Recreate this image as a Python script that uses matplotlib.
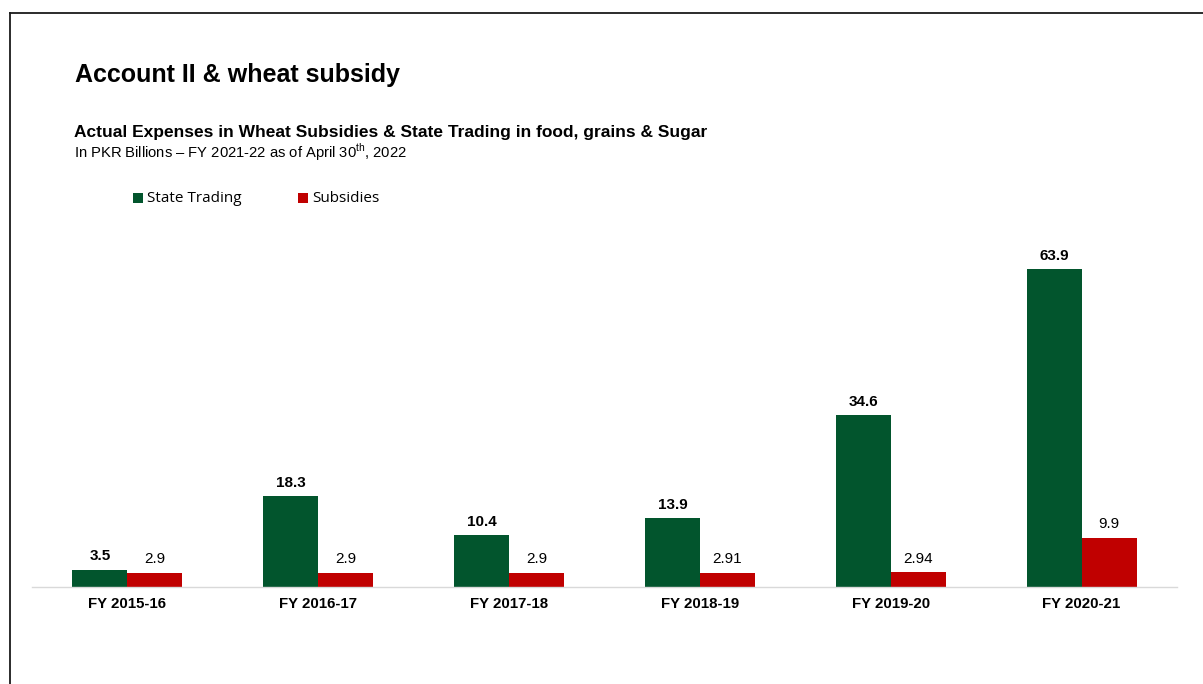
#!/usr/bin/env python3
"""Account II & wheat subsidy: state trading vs subsidies by fiscal year."""

import matplotlib

matplotlib.use("Agg")
import matplotlib.pyplot as plt
from matplotlib.lines import Line2D
from matplotlib.patches import Rectangle
import numpy as np

YEARS = ["FY 2015-16", "FY 2016-17", "FY 2017-18",
         "FY 2018-19", "FY 2019-20", "FY 2020-21"]
STATE_TRADING = [3.5, 18.3, 10.4, 13.9, 34.6, 63.9]
SUBSIDIES = [2.9, 2.9, 2.9, 2.91, 2.94, 9.9]
STATE_LABELS = ["3.5", "18.3", "10.4", "13.9", "34.6", "63.9"]
SUBSIDY_LABELS = ["2.9", "2.9", "2.9", "2.91", "2.94", "9.9"]

GREEN = "#02552D"
RED = "#C00000"

plt.rcParams["font.family"] = ["Liberation Sans", "DejaVu Sans"]
plt.rcParams["mathtext.fontset"] = "custom"
plt.rcParams["mathtext.rm"] = "Liberation Sans"

W, H = 1203, 684


def fx(px):
  return px / W


def fy(py):
  return 1 - py / H


def main():
  fig = plt.figure(figsize=(W / 100, H / 100), dpi=100)

  # frame lines along the top and left edge
  fig.add_artist(Line2D([fx(10), 1.0], [fy(13), fy(13)],
                        color="#1a1a1a", linewidth=1.3))
  fig.add_artist(Line2D([fx(10), fx(10)], [fy(13), 0.0],
                        color="#1a1a1a", linewidth=1.3))

  fig.text(fx(75), fy(75), "Account II & wheat subsidy",
           fontsize=18, fontweight="bold", ha="left", va="center")
  fig.text(fx(74), fy(132),
           "Actual Expenses in Wheat Subsidies & State Trading in food, grains & Sugar",
           fontsize=12.5, fontweight="bold", ha="left", va="center")
  fig.text(fx(74), fy(152),
           "In PKR Billions \u2013 FY 2021-22 as of April 30$^{\\mathrm{th}}$, 2022",
           fontsize=10.6, ha="left", va="center")

  # legend
  for x0, color, label in [(133, GREEN, "State Trading"),
                           (298, RED, "Subsidies")]:
    fig.add_artist(Rectangle((fx(x0), fy(203)), fx(10), 10 / H,
                             facecolor=color, edgecolor="none"))
    fig.text(fx(x0 + 14), fy(198.5), label, fontsize=11,
             family=["Open Sans", "DejaVu Sans"], ha="left", va="center")

  top_px, base_px = 240, 587
  ax = fig.add_axes([fx(32), fy(base_px), fx(1177) - fx(32),
                     (base_px - top_px) / H])
  px_per_unit = 318 / 63.9
  ax.set_ylim(0, (base_px - top_px) / px_per_unit)
  ax.set_xlim(-0.5, len(YEARS) - 0.5)

  x = np.arange(len(YEARS))
  width = 0.288
  ax.bar(x - width / 2, STATE_TRADING, width, color=GREEN,
         edgecolor="none")
  ax.bar(x + width / 2, SUBSIDIES, width, color=RED, edgecolor="none")

  for xi, v, lab in zip(x, STATE_TRADING, STATE_LABELS):
    ax.annotate(lab, (xi - width / 2, v), xytext=(0, 4.5),
                textcoords="offset points", ha="center", va="bottom",
                fontsize=11, fontweight="bold")
  for xi, v, lab in zip(x, SUBSIDIES, SUBSIDY_LABELS):
    ax.annotate(lab, (xi + width / 2, v), xytext=(0, 4.5),
                textcoords="offset points", ha="center", va="bottom",
                fontsize=11)

  ax.set_xticks(x)
  ax.set_xticklabels(YEARS, fontsize=10.8, fontweight="bold")
  ax.tick_params(axis="x", length=0, pad=7)
  ax.set_yticks([])
  for side in ["top", "right", "left"]:
    ax.spines[side].set_visible(False)
  ax.spines["bottom"].set_color("#D9D9D9")
  ax.spines["bottom"].set_linewidth(1.0)
  ax.patch.set_visible(False)

  fig.savefig("out.png", dpi=100)
  plt.close(fig)


if __name__ == "__main__":
  main()
